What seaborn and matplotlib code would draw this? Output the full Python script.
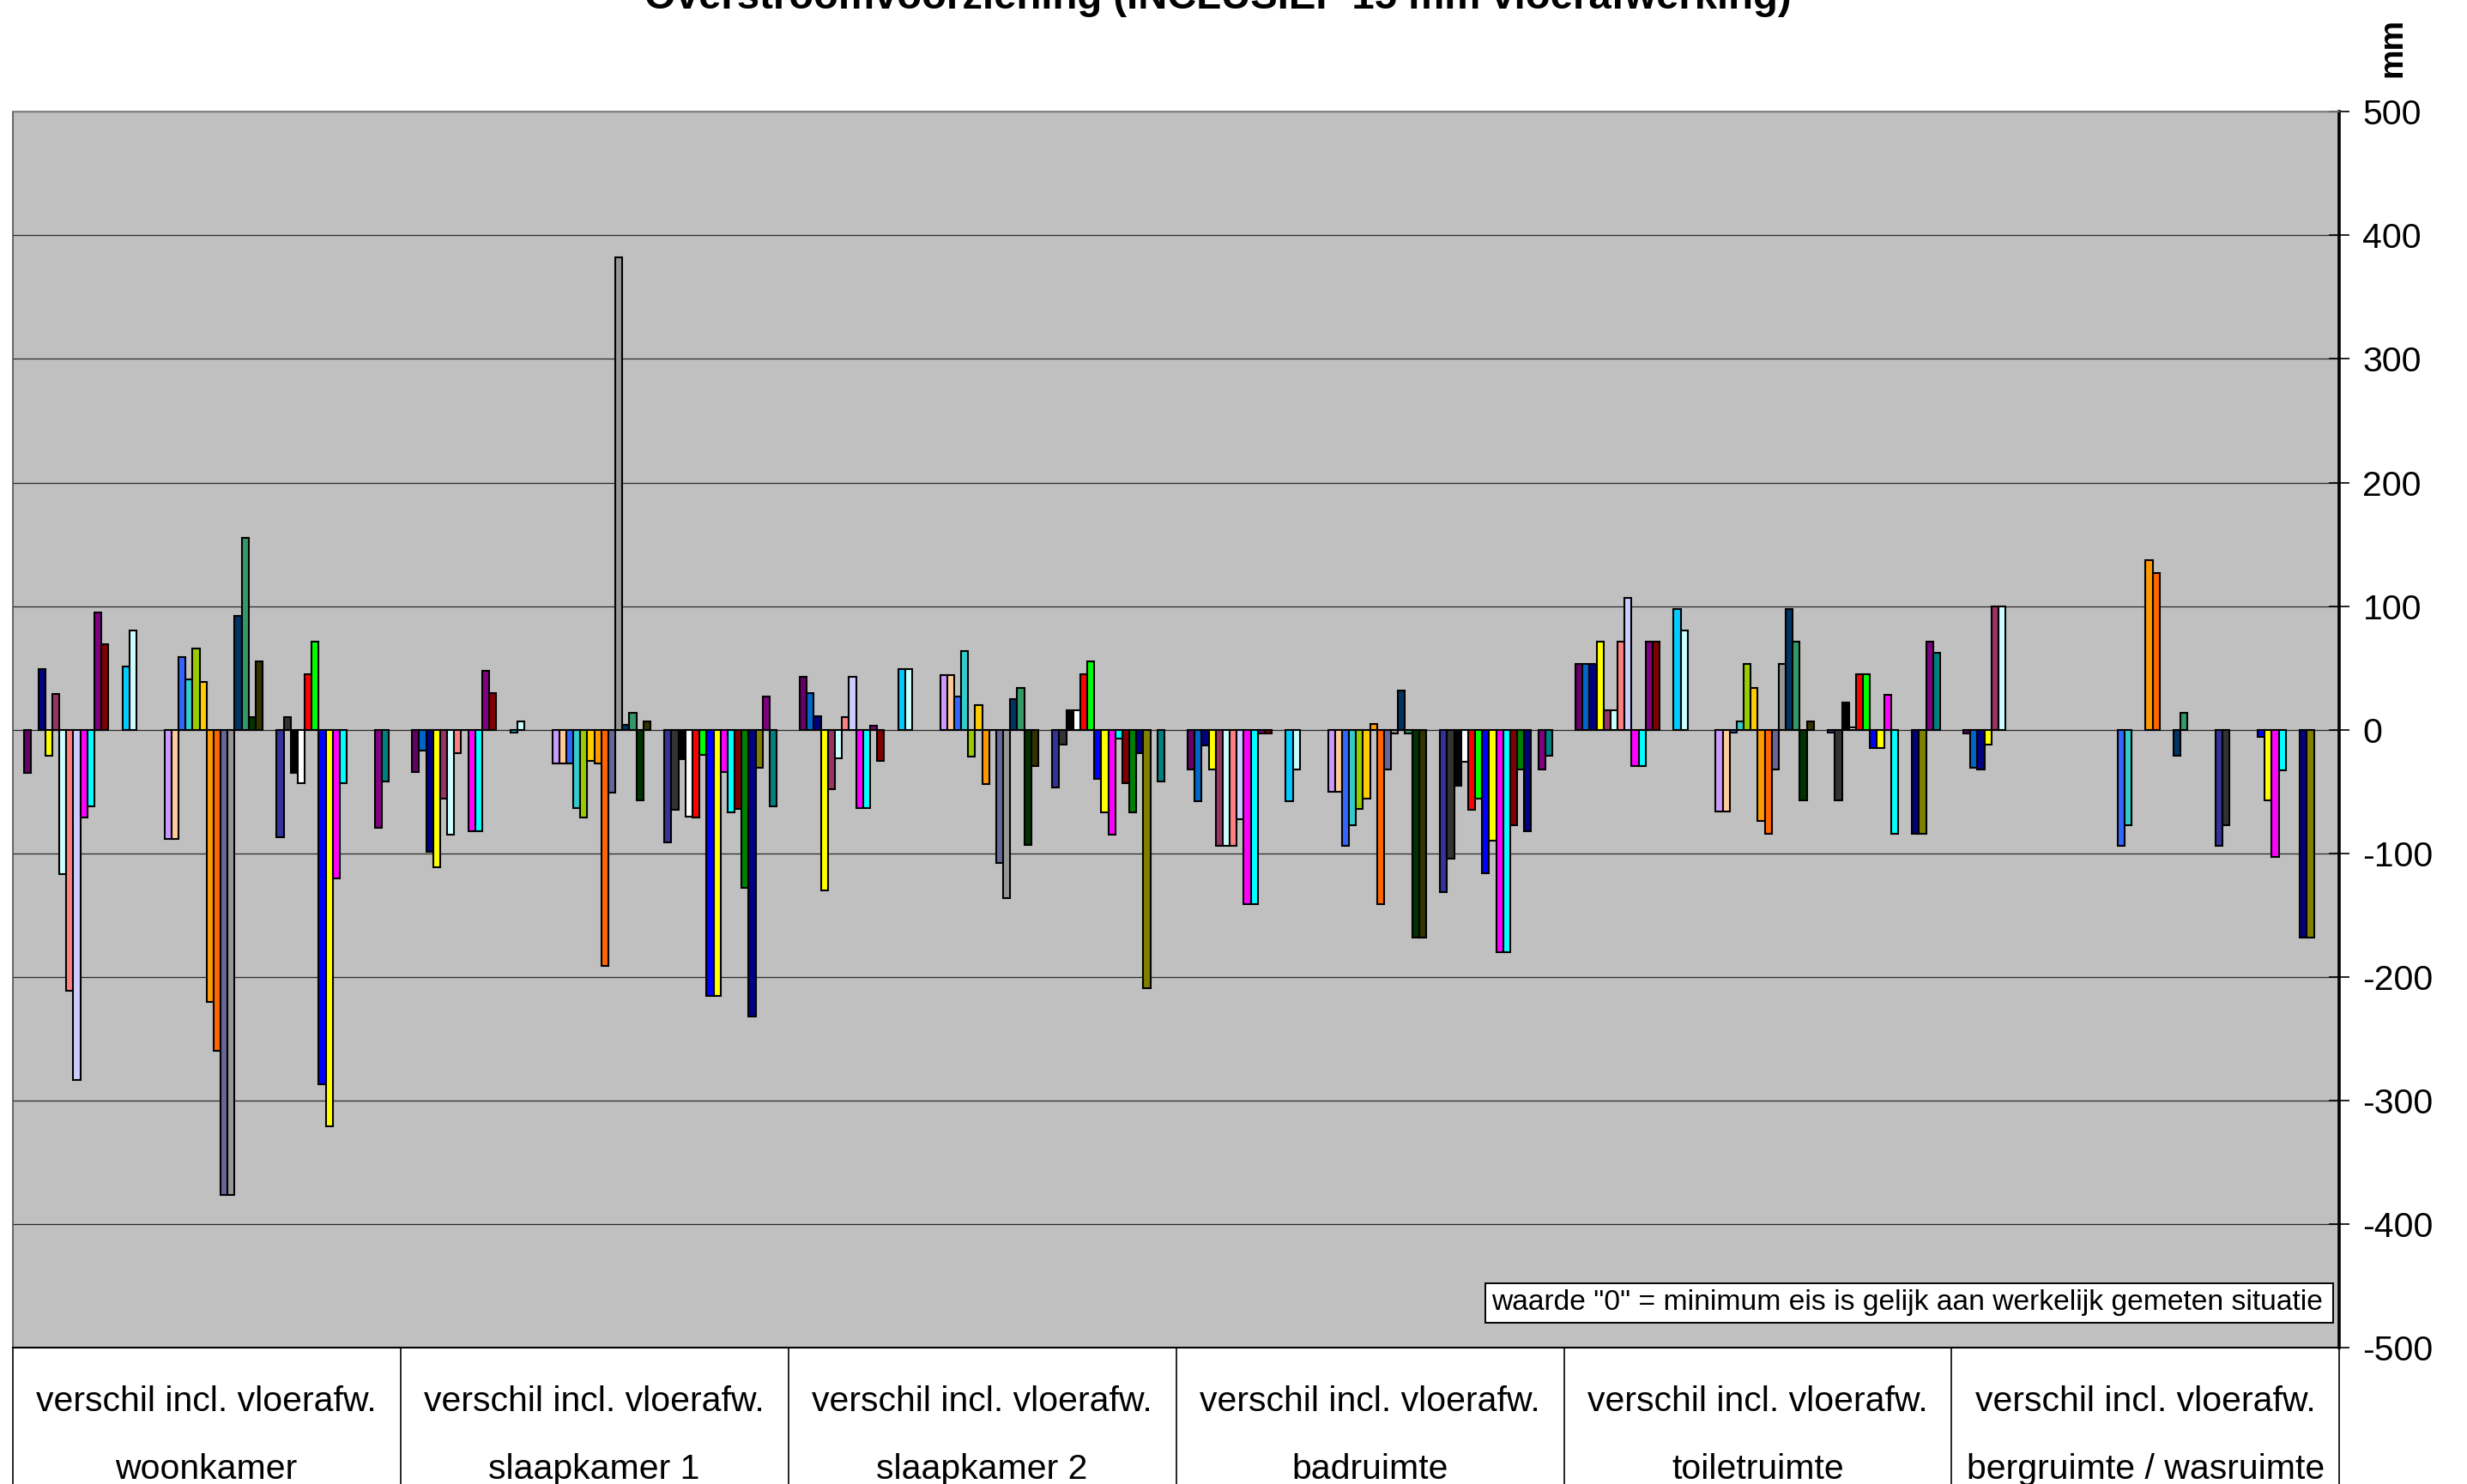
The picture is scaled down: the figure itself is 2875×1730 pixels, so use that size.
import numpy as np
import pandas as pd
import matplotlib
matplotlib.use("Agg")
import matplotlib.pyplot as plt
from matplotlib.patches import Rectangle
from matplotlib.transforms import blended_transform_factory
import seaborn as sns

N = None

kamers = ["woonkamer", "slaapkamer 1", "slaapkamer 2", "badruimte",
          "toiletruimte", "bergruimte / wasruimte"]
bovenregel = "verschil incl. vloerafw."
titel = "Overstroomvoorziening (INCLUSIEF 15 mm vloerafwerking)"
eenheid = "mm"
opmerking = 'waarde "0" = minimum eis is gelijk aan werkelijk gemeten situatie'

# fill colour per measuring point (52 series)
kleuren = [
    "#660066", "#0066CC", "#000080", "#FFFF00", "#993366", "#CCFFFF", "#FF8080",
    "#CCCCFF", "#FF00FF", "#00FFFF", "#800080", "#800000", "#008080", "#0000FF",
    "#00CCFF", "#CCFFFF", "#CCFFCC", "#FFFF99", "#99CCFF", "#FF99CC", "#CC99FF",
    "#FFCC99", "#3366FF", "#33CCCC", "#99CC00", "#FFCC00", "#FF9900", "#FF6600",
    "#666699", "#969696", "#003366", "#339966", "#003300", "#333300", "#993300",
    "#993366", "#333399", "#333333", "#000000", "#FFFFFF", "#FF0000", "#00FF00",
    "#0000FF", "#FFFF00", "#FF00FF", "#00FFFF", "#800000", "#008000", "#000080",
    "#808000", "#800080", "#008080",
]
meetpunten = [f"meetpunt {i + 1:02d}" for i in range(len(kleuren))]

# difference in mm per measuring point, one list per room (None = not measured)
woonkamer = [
    -35, N, 49, -21, 29, -117, -211, -283, -71, -62, 95, 69, N,
    N, 51, 80, N, N, N, N, -88, -88, 59, 41, 66, 39,
    -220, -260, -376, -376, 92, 155, 10, 55, N, N, -87, 10, -35,
    -43, 45, 71, -287, -321, -120, -43, N, N, N, N, -79, -42,
]
slaapkamer_1 = [
    -34, -17, -99, -111, -56, -85, -19, 0, -82, -82, 48, 30, N,
    N, -2, 7, N, N, N, N, -27, -27, -27, -63, -71, -25,
    -27, -191, -51, 382, 4, 14, -57, 7, N, N, -91, -65, -24,
    -70, -71, -20, -215, -215, -34, -67, -64, -128, -232, -31, 27, -62,
]
slaapkamer_2 = [
    43, 30, 11, -130, -48, -23, 10, 43, -63, -63, 3, -25, N,
    N, 49, 49, N, N, N, N, 44, 44, 27, 64, -22, 20,
    -44, 0, -108, -136, 25, 34, -93, -29, N, N, -47, -12, 16,
    16, 45, 55, -40, -67, -85, -7, -43, -67, -19, -209, N, -42,
]
badruimte = [
    -32, -58, -13, -32, -94, -94, -94, -72, -141, -141, -3, -3, N,
    N, -58, -32, N, N, N, N, -50, -50, -94, -77, -64, -56,
    5, -141, -32, -3, 32, -3, -168, -168, N, N, -131, -104, -45,
    -26, -65, -56, -116, -90, -180, -180, -77, -32, -82, N, -32, -21,
]
toiletruimte = [
    53, 53, 53, 71, 16, 16, 71, 107, -29, -29, 71, 71, N,
    N, 98, 80, N, N, N, N, -66, -66, -2, 7, 53, 34,
    -74, -84, -32, 53, 98, 71, -57, 7, N, N, -2, -57, 22,
    2, 45, 45, -15, -15, 28, -84, N, N, -84, -84, 71, 62,
]
bergruimte = [
    -3, -31, -32, -12, 100, 100, N, N, N, N, N, N, N,
    N, N, N, N, N, N, N, N, N, -94, -77, N, N,
    137, 127, N, N, -21, 14, N, N, N, N, -94, -77, N,
    N, N, N, -6, -57, -103, -33, N, N, -168, -168, N, N,
]
per_kamer = [woonkamer, slaapkamer_1, slaapkamer_2, badruimte, toiletruimte, bergruimte]

rijen = []
for kamer, waarden in zip(kamers, per_kamer):
    for punt, w in zip(meetpunten, waarden):
        if w is not None:
            rijen.append({"kamer": kamer, "meetpunt": punt, "verschil": w})
df = pd.DataFrame(rijen)

plt.rcParams["font.family"] = ["Liberation Sans", "DejaVu Sans"]
plt.rcParams["axes.unicode_minus"] = False

W, H = 2875, 1730
fig = plt.figure(figsize=(W / 100, H / 100), dpi=100, facecolor="white")
x0, x1 = 14.7, 2726.4
y0, y1 = 130.2, 1571.3
ax = fig.add_axes([x0 / W, 1 - y1 / H, (x1 - x0) / W, (y1 - y0) / H])
ax.set_facecolor("#C0C0C0")

sns.barplot(
    data=df, x="kamer", y="verschil", hue="meetpunt",
    order=kamers, hue_order=meetpunten,
    palette=dict(zip(meetpunten, kleuren)),
    width=0.94, saturation=1, errorbar=None,
    edgecolor="black", linewidth=1.5, legend=False, ax=ax,
)

ax.set_xlim(-0.5, len(kamers) - 0.5)
ax.set_ylim(-500, 500)
ax.set_xlabel("")
ax.set_ylabel("")

# value axis on the right
yticks = list(range(-500, 501, 100))
ax.yaxis.tick_right()
ax.set_yticks(yticks)
ax.set_yticklabels([str(v) for v in yticks])
ax.tick_params(axis="y", which="major", direction="inout", length=17, width=1.2,
               labelsize=29.5, pad=11, left=False, right=True, colors="black")
ax.grid(axis="y", color="#2a2a2a", linewidth=0.9)
ax.set_axisbelow(True)

# category separators reaching down through the label area
ax.set_xticks(np.arange(-0.5, len(kamers), 1.0))
ax.set_xticklabels([])
ax.tick_params(axis="x", which="major", direction="out", length=125, width=1.2,
               colors="black")

for side, kleur, lw in [("left", "#505050", 1.2), ("top", "#808080", 1.2),
                        ("right", "black", 2.6), ("bottom", "black", 1.5)]:
    ax.spines[side].set_color(kleur)
    ax.spines[side].set_linewidth(lw)

trans = blended_transform_factory(ax.transData, fig.transFigure)
for i, kamer in enumerate(kamers):
    ax.text(i, 1 - 1645 / H, bovenregel, transform=trans, ha="center",
            va="baseline", fontsize=29.5, clip_on=False)
    ax.text(i, 1 - 1724 / H, kamer, transform=trans, ha="center",
            va="baseline", fontsize=29.5, clip_on=False)

# note box inside the plot area
bx0, bx1, by0, by1 = 1731, 2719, 1496, 1542
ax.add_patch(Rectangle(((bx0 - x0) / (x1 - x0), (y1 - by1) / (y1 - y0)),
                       (bx1 - bx0) / (x1 - x0), (by1 - by0) / (y1 - y0),
                       transform=ax.transAxes, facecolor="white",
                       edgecolor="black", linewidth=1.4, zorder=5))
ax.text((bx0 + 7 - x0) / (x1 - x0), (y1 - (by0 + by1) / 2) / (y1 - y0), opmerking,
        transform=ax.transAxes, ha="left", va="center", fontsize=24.2, zorder=6)

fig.text(774 / 1568, 1 - 10 / H, titel, ha="center", va="baseline",
         fontsize=34, fontweight="bold")
fig.text(2788 / W, 1 - 55 / H, eenheid, ha="center", va="center", rotation=90,
         fontsize=28, fontweight="bold")

fig.savefig("out.png", dpi=100, facecolor="white")
